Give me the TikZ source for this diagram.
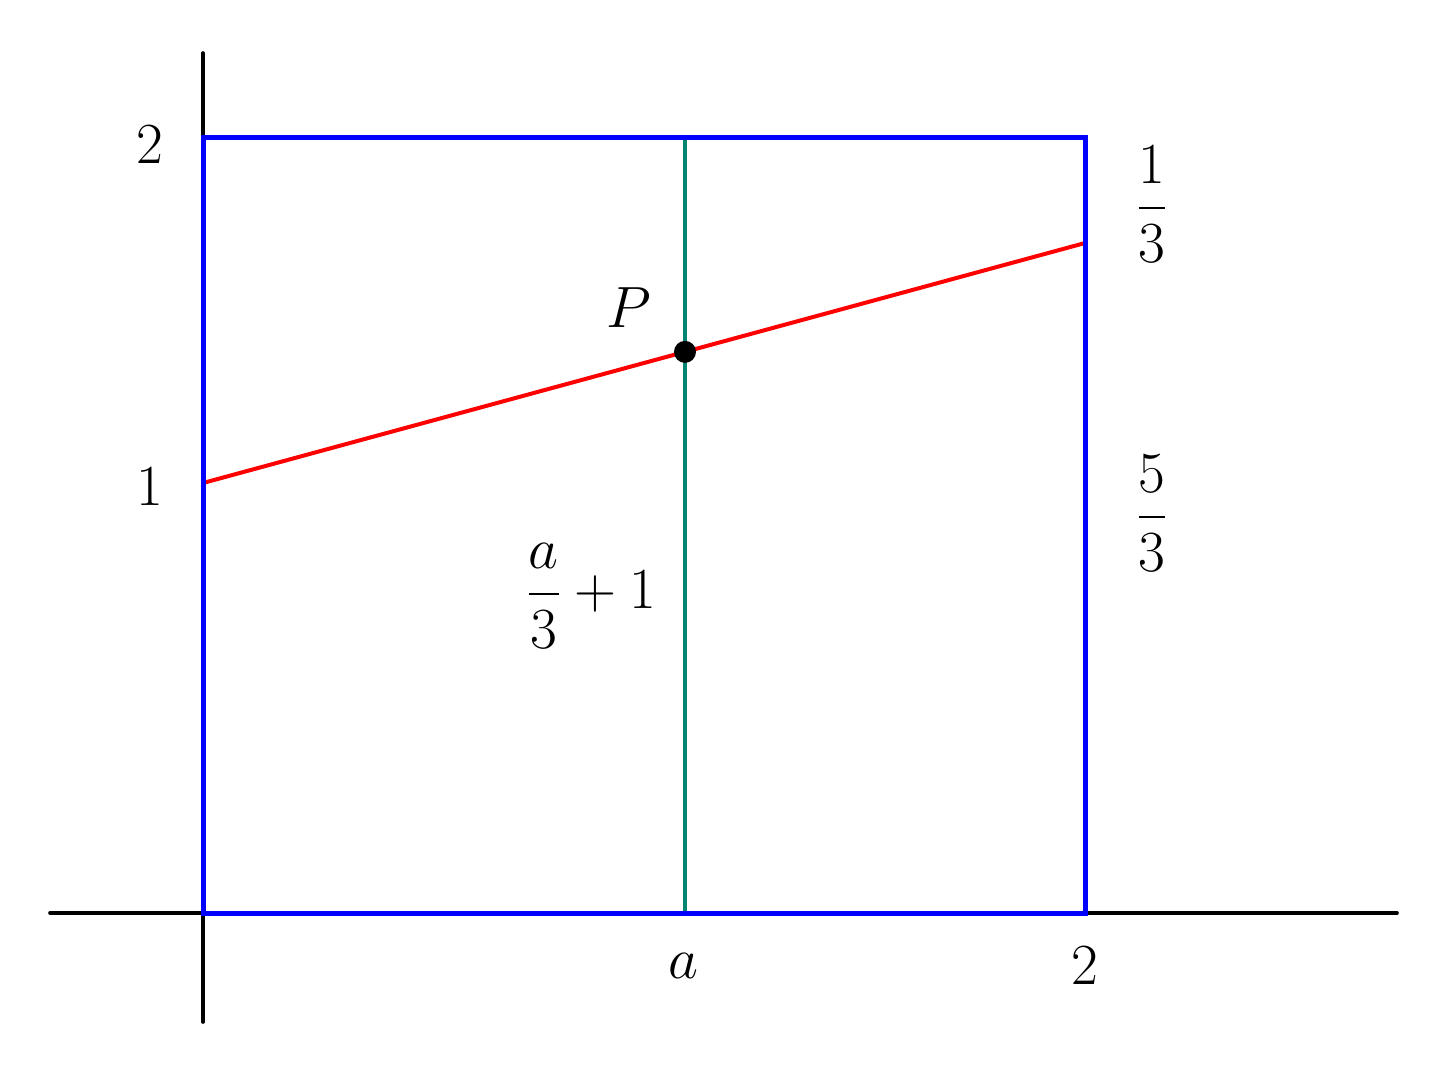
\documentclass[tikz,border=0pt]{standalone}
\usepackage{graphicx}
\usepackage{amsmath}
\definecolor{sqblue}{RGB}{0,0,255}
\definecolor{vgreen}{RGB}{0,133,115}
\definecolor{lred}{RGB}{255,0,0}
\newcommand{\lblmath}[1]{\scalebox{1.17}{\fontsize{24.88}{30}\selectfont$\displaystyle #1$}}
\begin{document}
\begin{tikzpicture}[x=0.5pt,y=-0.5pt,
  axis/.style={black,line width=1.8pt,line cap=round},
  sq/.style={sqblue,line width=2.5pt},
  vline/.style={vgreen,line width=2pt},
  rline/.style={lred,line width=2pt},
  lbl/.style={inner sep=0pt}]
\useasboundingbox (0,0) rectangle (1446,1088);
% axes
\coordinate (xl) at (50,913);
\coordinate (xr) at (1397,913);
\coordinate (yb) at (203,1022);
\coordinate (yt) at (203,53);
\draw[axis] (xl) -- (xr);
\draw[axis] (yb) -- (yt);
% square
\coordinate (O) at (203,913);
\coordinate (B) at (1085,913);
\coordinate (C) at (1085,137);
\coordinate (D) at (203,137);
% vertical green
\coordinate (G1) at (685,913);
\coordinate (G2) at (685,137);
\draw[vline] (G1) -- (G2);
% red line
\coordinate (L) at (203,483);
\coordinate (R) at (1085,243);
\draw[rline] (L) -- (R);
\draw[sq] (O) -- (B) -- (C) -- (D) -- cycle;
% point P
\coordinate (P) at (intersection of L--R and G1--G2);
\fill[black] (P) circle (5.5pt);
% labels
\node[lbl] (l2y) at (150,145) {\lblmath{2}};
\node[lbl] (l1y) at (150,487) {\lblmath{1}};
\node[lbl] (la) at (683,966) {\lblmath{a}};
\node[lbl] (l2x) at (1085,966) {\lblmath{2}};
\node[lbl] (lP) at (629,308) {\lblmath{P}};
\node[lbl] (lthird) at (1152,204) {\lblmath{\frac{1}{3}}};
\node[lbl] (lfive) at (1152,513) {\lblmath{\frac{5}{3}}};
\node[lbl] (lexpr) at (591,596) {\lblmath{\frac{a}{3}+1}};
\end{tikzpicture}
\end{document}
